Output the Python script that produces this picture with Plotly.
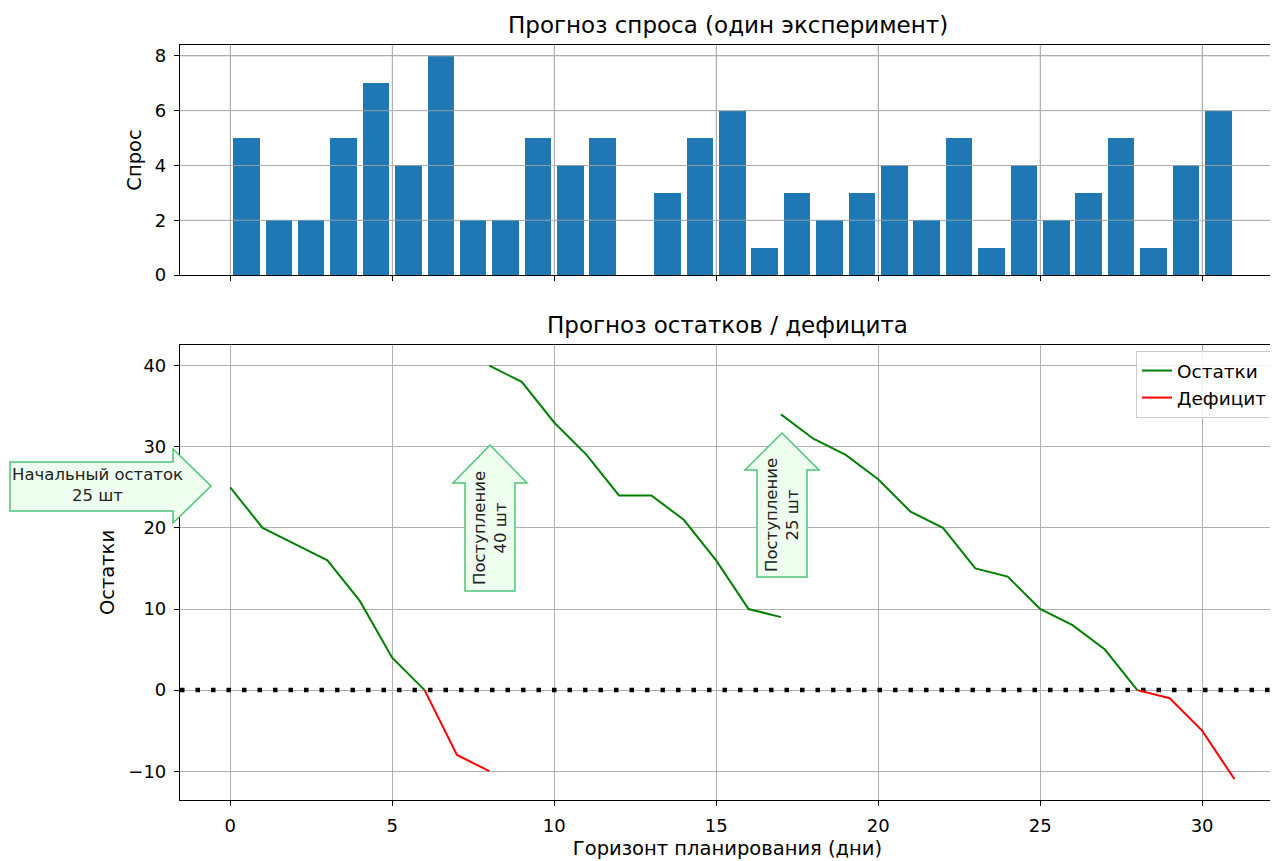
import plotly.graph_objects as go
from plotly.subplots import make_subplots
import numpy as np

# ---- data ----
demand = [5, 2, 2, 5, 7, 4, 8, 2, 2, 5, 4, 5, 0, 3, 5, 6, 1, 3, 2, 3, 4, 2, 5, 1, 4, 2, 3, 5, 1, 4, 6]
stock_days_1 = [0, 1, 2, 3, 4, 5, 6]
stock_vals_1 = [25, 20, 18, 16, 11, 4, 0]
stock_days_2 = [8, 9, 10, 11, 12, 13, 14, 15, 16, 17]
stock_vals_2 = [40, 38, 33, 29, 24, 24, 21, 16, 10, 9]
stock_days_3 = [17, 18, 19, 20, 21, 22, 23, 24, 25, 26, 27, 28]
stock_vals_3 = [34, 31, 29, 26, 22, 20, 15, 14, 10, 8, 5, 0]
deficit_days_1 = [6, 7, 8]
deficit_vals_1 = [0, -8, -10]
deficit_days_2 = [28, 29, 30, 31]
deficit_vals_2 = [0, -1, -5, -11]
x_ticks = [0, 5, 10, 15, 20, 25, 30]
demand_ticks = [0, 2, 4, 6, 8]
stock_ticks = [-10, 0, 10, 20, 30, 40]

OFF = 8  # page body margin
W, H = 1278 - OFF, 861 - OFF
ML, MR, MT, MB = 172, 3, 37, 61
PW = W - ML - MR
PH = H - MT - MB

def px(x):
    return (x - OFF - ML) / PW

def py(y):
    return (H - MB - (y - OFF)) / PH

FONT = "DejaVu Sans"
XR = [-1.55, 32.25]

fig = make_subplots(rows=2, cols=1, shared_xaxes=False, vertical_spacing=0.0)

bar_x = np.arange(len(demand)) + 0.5
fig.add_trace(go.Bar(x=bar_x, y=demand, width=0.82, marker=dict(color="#1f77b4", line=dict(width=0)),
                     showlegend=False), row=1, col=1)

gx = stock_days_1 + [None] + stock_days_2 + [None] + stock_days_3
gy = stock_vals_1 + [None] + stock_vals_2 + [None] + stock_vals_3
rx = deficit_days_1 + [None] + deficit_days_2
ry = deficit_vals_1 + [None] + deficit_vals_2

fig.add_trace(go.Scatter(x=XR, y=[0, 0], mode="lines",
                         line=dict(color="black", width=4.5, dash="4.5px,11px"),
                         showlegend=False, hoverinfo="skip"), row=2, col=1)
fig.add_trace(go.Scatter(x=gx, y=gy, mode="lines", name="Остатки",
                         line=dict(color="green", width=2)), row=2, col=1)
fig.add_trace(go.Scatter(x=rx, y=ry, mode="lines", name="Дефицит",
                         line=dict(color="red", width=2)), row=2, col=1)

axis_common = dict(showline=True, linecolor="black", linewidth=1.2, mirror=True,
                   ticks="outside", ticklen=5, tickcolor="black",
                   showgrid=True, gridcolor="#b0b0b0", gridwidth=1, zeroline=False,
                   ticklabelstandoff=4,
                   tickfont=dict(family=FONT, size=18, color="black"))

fig.update_layout(
    width=W, height=H, plot_bgcolor="white", paper_bgcolor="white",
    margin=dict(l=ML, r=MR, t=MT, b=MB),
    font=dict(family=FONT, color="black"),
    bargap=0,
    xaxis=dict(domain=[0, 1], range=XR, tickvals=x_ticks, showticklabels=False,
               anchor="y", **axis_common),
    yaxis=dict(domain=[py(275), 1], range=[0, 8.4], tickvals=demand_ticks,
               title=dict(text="Спрос", font=dict(family=FONT, size=19.5), standoff=8), **axis_common),
    xaxis2=dict(domain=[0, 1], range=XR, tickvals=x_ticks, anchor="y2",
                title=dict(text="Горизонт планирования (дни)", font=dict(family=FONT, size=19.5), standoff=6),
                **axis_common),
    yaxis2=dict(domain=[0, py(345)], range=[-13.55, 42.55], tickvals=stock_ticks,
                title=dict(text="Остатки", font=dict(family=FONT, size=19.5), standoff=8), **axis_common),
    legend=dict(x=px(1273), y=py(351), xanchor="right", yanchor="top",
                bordercolor="#cccccc", borderwidth=1, bgcolor="rgba(255,255,255,0.85)",
                font=dict(family=FONT, size=18.5), tracegroupgap=2),
)

# gridlines drawn above the bars in the demand panel
for t in demand_ticks[1:]:
    fig.add_shape(type="line", xref="x", yref="y", x0=XR[0], x1=XR[1], y0=t, y1=t,
                  line=dict(color="rgba(176,176,176,0.75)", width=1), layer="above")
for t in x_ticks:
    fig.add_shape(type="line", xref="x", yref="y", x0=t, x1=t, y0=0, y1=8.4,
                  line=dict(color="rgba(176,176,176,0.75)", width=1), layer="above")

# subplot titles
fig.add_annotation(text="Прогноз спроса (один эксперимент)", xref="paper", yref="paper",
                   x=0.5, y=py(25), xanchor="center", yanchor="middle", showarrow=False,
                   font=dict(family=FONT, size=23))
fig.add_annotation(text="Прогноз остатков / дефицита", xref="paper", yref="paper",
                   x=0.5, y=py(325), xanchor="center", yanchor="middle", showarrow=False,
                   font=dict(family=FONT, size=23))

FILL = "#efffef"
EDGE = "#4cc47a"

def path_from_pixels(points):
    return "M " + " L ".join(f"{px(a):.5f},{py(b):.5f}" for a, b in points) + " Z"

left_arrow = [(10, 462), (173, 462), (173, 449), (211, 486), (173, 523), (173, 511), (10, 511)]
up1 = [(465, 591), (465, 483), (453, 483), (490, 445), (527, 483), (515, 483), (515, 591)]
up2 = [(757, 577), (757, 470), (745, 470), (782, 433), (819, 470), (807, 470), (807, 577)]
for pts in (left_arrow, up1, up2):
    fig.add_shape(type="path", path=path_from_pixels(pts), xref="paper", yref="paper",
                  fillcolor=FILL, line=dict(color=EDGE, width=1.5), layer="above")

fig.add_annotation(text="Начальный остаток<br>25 шт", xref="paper", yref="paper",
                   x=px(97), y=py(485), xanchor="center", yanchor="middle",
                   showarrow=False, align="center",
                   font=dict(family=FONT, size=16.5, color="#222222"))
fig.add_annotation(text="Поступление<br>40 шт", xref="paper", yref="paper",
                   x=px(490), y=py(528), xanchor="center", yanchor="middle",
                   showarrow=False, align="center", textangle=-90,
                   font=dict(family=FONT, size=16.5, color="#222222"))
fig.add_annotation(text="Поступление<br>25 шт", xref="paper", yref="paper",
                   x=px(782), y=py(515), xanchor="center", yanchor="middle",
                   showarrow=False, align="center", textangle=-90,
                   font=dict(family=FONT, size=16.5, color="#222222"))

fig.write_html("out.html")
